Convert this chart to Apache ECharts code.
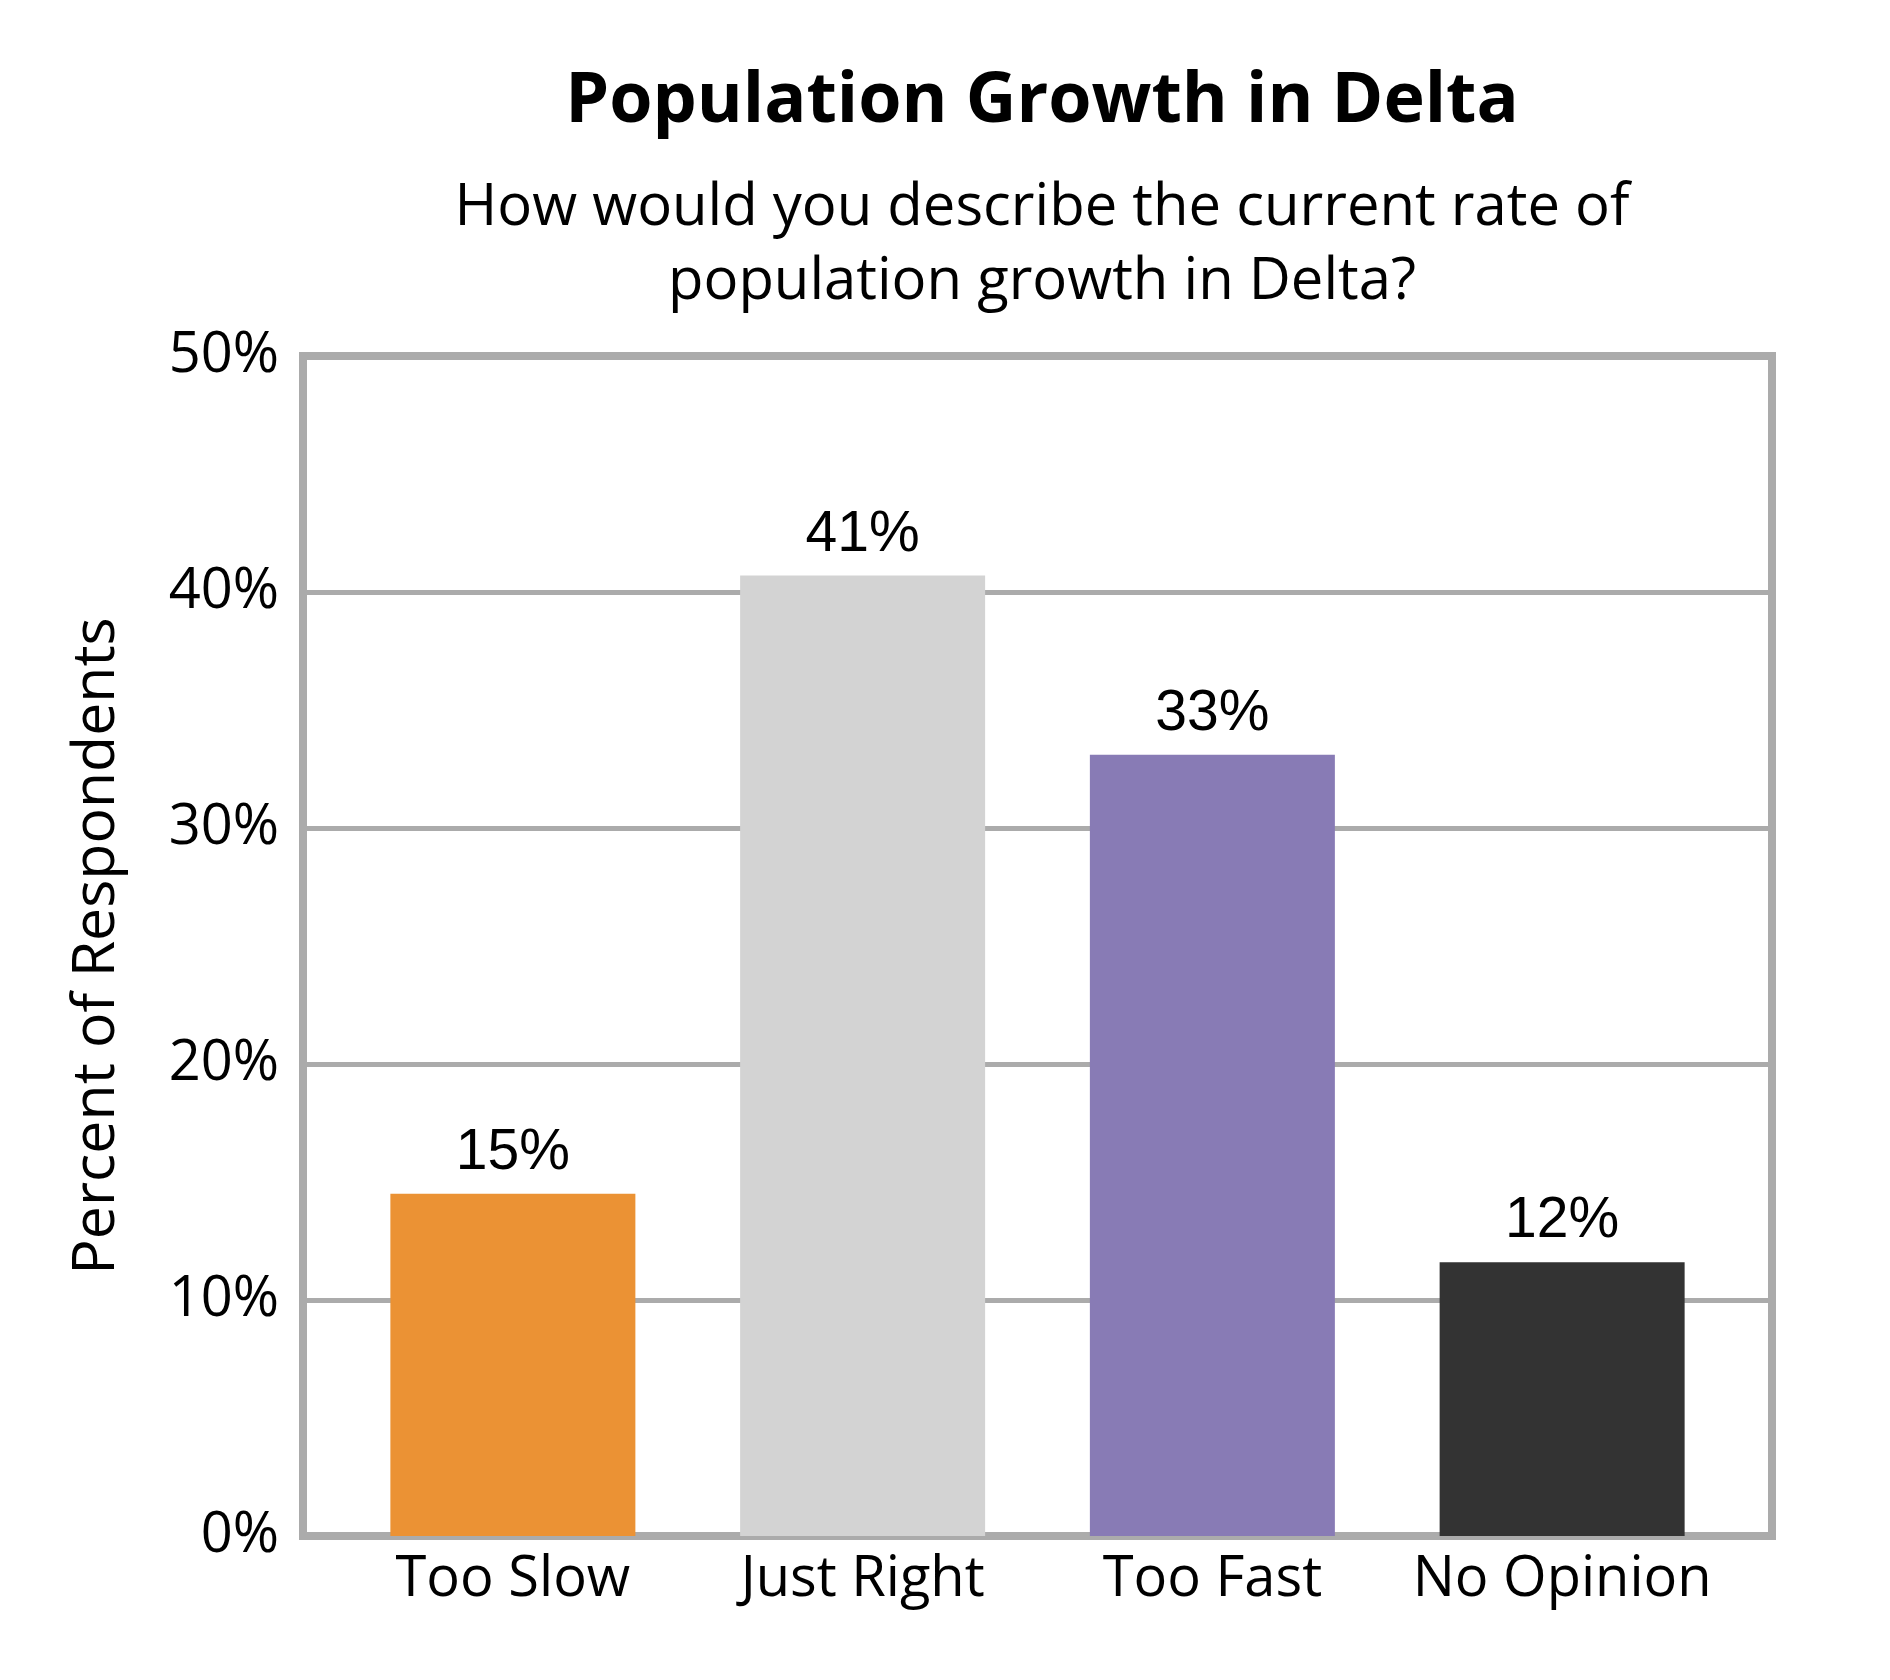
<!DOCTYPE html>
<html>
<head>
<meta charset="utf-8">
<script src="https://cdn.jsdelivr.net/npm/echarts@6/dist/echarts.min.js"></script>
<style>
  html, body { margin: 0; padding: 0; background: #fff; }
  #chart { width: 1890px; height: 1680px; }
</style>
</head>
<body>
<div id="chart"></div>
<script>
var categories = ['Too Slow', 'Just Right', 'Too Fast', 'No Opinion'];
var values = [14.5, 40.7, 33.1, 11.6];
var labels = ['15%', '41%', '33%', '12%'];
var barColors = ['#EB9234', '#D3D3D3', '#887BB5', '#333333'];

var font = 'Open Sans';
var chart = echarts.init(document.getElementById('chart'));

var option = {
    backgroundColor: '#fff',
    animation: false,
    title: [{
        text: 'Population Growth in Delta',
        left: 1037,
        top: 62,
        textAlign: 'center',
        textStyle: { fontFamily: font, fontWeight: 'bold', fontSize: 70, color: '#000' }
    }, {
        text: 'How would you describe the current rate of\npopulation growth in Delta?',
        left: 1037,
        top: 166,
        textAlign: 'center',
        textStyle: { fontFamily: font, fontWeight: 'normal', fontSize: 58, lineHeight: 74, color: '#000' }
    }],
    grid: [
        // outer frame with the gridlines
        { left: 303, right: 118, top: 356, bottom: 144, show: true, borderColor: '#ABABAB', borderWidth: 8, backgroundColor: 'transparent' },
        // inner grid for the bars
        { left: 338, right: 153, top: 356, bottom: 144 }
    ],
    xAxis: [
        { gridIndex: 0, type: 'value', min: 0, max: 1, show: false },
        {
            gridIndex: 1,
            type: 'category',
            data: categories,
            axisLine: { show: false },
            axisTick: { show: false },
            axisLabel: { fontFamily: font, fontSize: 56, color: '#000', margin: 16, interval: 0 }
        }
    ],
    yAxis: [
        {
            gridIndex: 0,
            type: 'value',
            min: 0,
            max: 50,
            interval: 10,
            name: 'Percent of Respondents',
            nameLocation: 'middle',
            nameRotate: 90,
            nameGap: 176,
            nameTextStyle: { fontFamily: font, fontSize: 59, color: '#000' },
            axisLine: { show: false },
            axisTick: { show: false },
            axisLabel: { formatter: '{value}%', fontFamily: font, fontSize: 56, color: '#000', margin: 24 },
            splitLine: { show: true, lineStyle: { color: '#ABABAB', width: 5 } }
        },
        { gridIndex: 1, type: 'value', min: 0, max: 50, show: false }
    ],
    series: [{
        type: 'bar',
        xAxisIndex: 1,
        yAxisIndex: 1,
        barWidth: 245,
        data: values.map(function (v, i) {
            return { value: v, itemStyle: { color: barColors[i] } };
        }),
        label: {
            show: true,
            position: 'top',
            distance: 12,
            fontFamily: 'Liberation Sans',
            fontSize: 57,
            color: '#000',
            formatter: function (p) { return labels[p.dataIndex]; }
        }
    }]
};
chart.setOption(option);
</script>
</body>
</html>
